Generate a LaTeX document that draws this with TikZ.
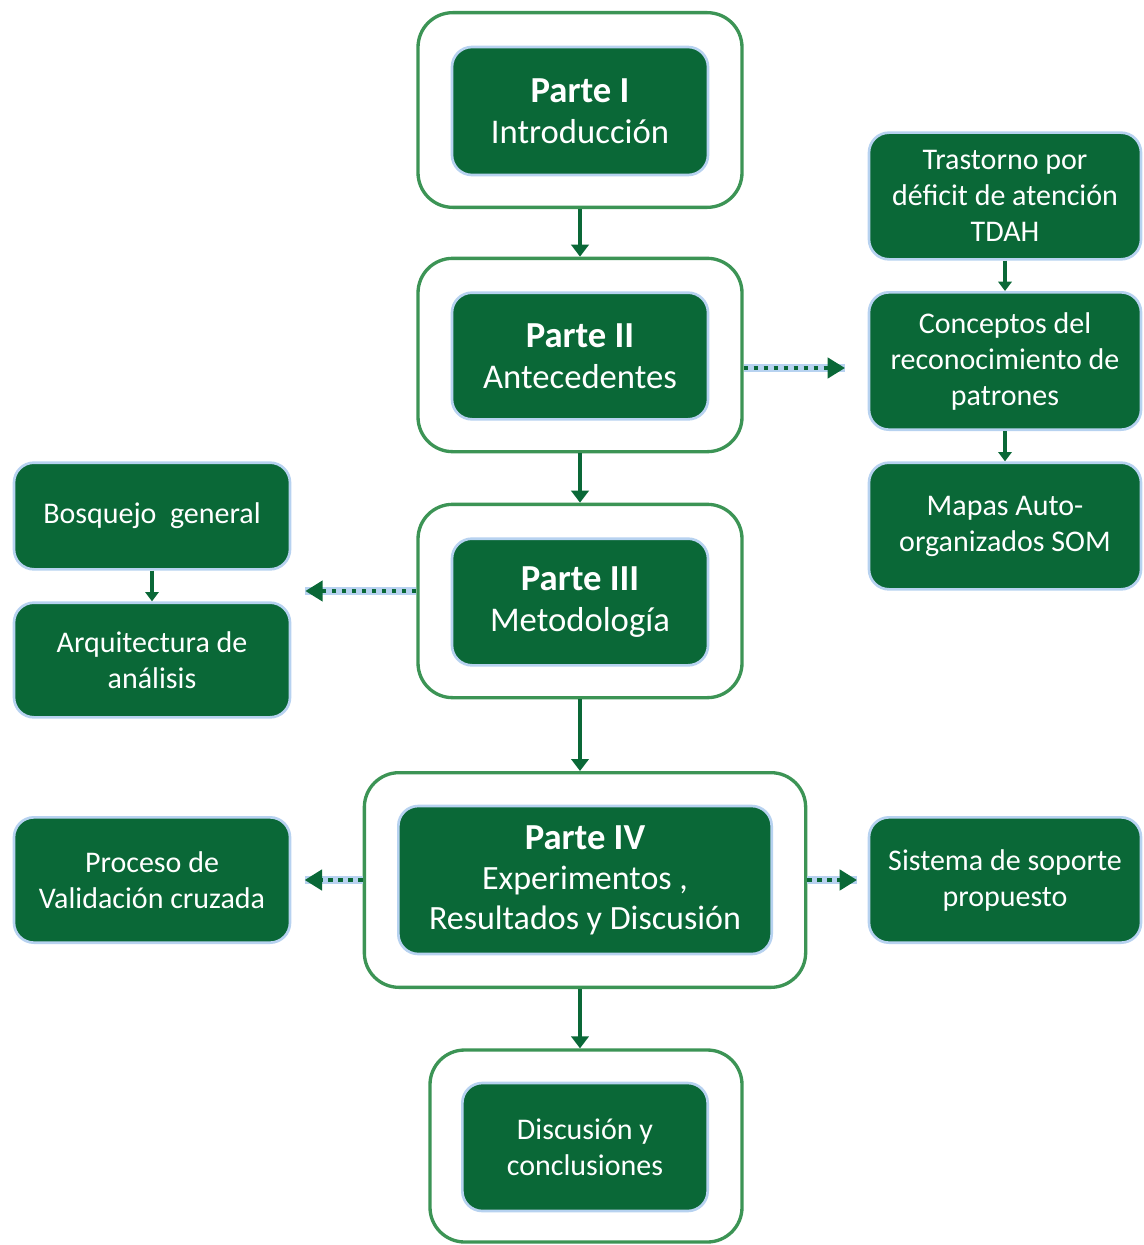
\documentclass[tikz,border=0pt]{standalone}
\usepackage{fontspec}
\setmainfont{Carlito}
\usepackage{tikz}
\usetikzlibrary{arrows.meta}
\definecolor{boxgreen}{HTML}{0A6837}
\definecolor{framegreen}{HTML}{3C9455}
\definecolor{glowblue}{HTML}{B7D2F0}

\begin{document}
\begin{tikzpicture}[x=0.75pt, y=-0.75pt,
	frame/.style={draw=framegreen, line width=2.5pt, fill=white, rounded corners=26pt},
	part/.style={draw=glowblue, line width=2pt, fill=boxgreen, rounded corners=15pt, text=white, align=center, font=\fontsize{26}{31}\selectfont},
	side/.style={part, font=\fontsize{22.5}{27}\selectfont},
	flow/.style={draw=boxgreen, line width=3.5pt, -{Triangle[length=9pt,width=13pt]}},
	subflow/.style={flow, line width=2.5pt, -{Triangle[length=7pt,width=10pt]}},
	aside/.style={draw=boxgreen, line width=3.5pt, dash pattern=on 3.5pt off 4pt, -{Triangle[length=13pt,width=15pt]}, preaction={draw=glowblue, solid, line width=6pt, -}}]
	\useasboundingbox (0,0) rectangle (1143,1245);

	\node[frame, minimum width=243pt, minimum height=146pt] (f1) at (580,110) {};
	\node[frame, minimum width=243pt, minimum height=145pt] (f2) at (580,355) {};
	\node[frame, minimum width=243pt, minimum height=145pt] (f3) at (580,601) {};
	\node[frame, minimum width=331pt, minimum height=161pt] (f4) at (585,880) {};
	\node[frame, minimum width=234pt, minimum height=144pt] (f5) at (586,1146) {};

	\node[part, minimum width=192pt, minimum height=96pt] (p1) at (580,111) {\textbf{\fontsize{27.5}{31}\selectfont Parte I}\\Introducción};
	\node[part, minimum width=192pt, minimum height=95pt] (p2) at (580,356) {\textbf{\fontsize{27.5}{31}\selectfont Parte II}\\Antecedentes};
	\node[part, minimum width=192pt, minimum height=95pt] (p3) at (580,602) {\textbf{\fontsize{27.5}{31}\selectfont Parte III}\\Metodología};
	\node[part, minimum width=280pt, minimum height=111pt, font=\fontsize{25.5}{30}\selectfont] (p4) at (585,880) {\textbf{\fontsize{27.5}{30}\selectfont Parte IV}\\Experimentos ,\\Resultados y Discusión};
	\node[part, minimum width=184pt, minimum height=96pt, font=\fontsize{22.5}{27}\selectfont] (p5) at (585,1147) {Discusión y\\conclusiones};

	\node[side, minimum width=204pt, minimum height=95pt] (t1) at (1005,196) {Trastorno por\\déficit de atención\\TDAH};
	\node[side, minimum width=204pt, minimum height=103pt] (t2) at (1005,361) {Conceptos del\\reconocimiento de\\patrones};
	\node[side, minimum width=204pt, minimum height=95pt] (t3) at (1005,526) {Mapas Auto-\\organizados SOM};
	\node[side, minimum width=207pt, minimum height=80pt] (l1) at (152,516) {Bosquejo~ general};
	\node[side, minimum width=207pt, minimum height=86pt] (l2) at (152,660) {Arquitectura de\\análisis};
	\node[side, minimum width=207pt, minimum height=94pt] (l3) at (152,880) {Proceso de\\Validación cruzada};
	\node[side, minimum width=204pt, minimum height=94pt] (r4) at (1005,880) {Sistema de soporte\\propuesto};

	\draw[flow] (f1.south) -- (f2.north);
	\draw[flow] (f2.south) -- (f3.north);
	\draw[flow] (f3.south) -- (f3.south |- f4.north);
	\draw[flow] (f4.south -| p1.south) -- (f5.north -| p1.south);

	\draw[subflow] (t1.south) -- (t2.north);
	\draw[subflow] (t2.south) -- (t3.north);
	\draw[subflow] (l1.south) -- (l2.north);

	\coordinate (gapL) at (292,591);
	\coordinate (gapR) at (869,368);
	\draw[aside, shorten >=18pt] (f2.east |- gapR) -- (gapR);
	\draw[aside, shorten >=10pt] (f3.west |- gapL) -- (gapL);
	\draw[aside, shorten >=10pt] (f4.west) -- (l3.east);
	\draw[aside, shorten >=8pt] (f4.east) -- (r4.west);
\end{tikzpicture}
\end{document}
